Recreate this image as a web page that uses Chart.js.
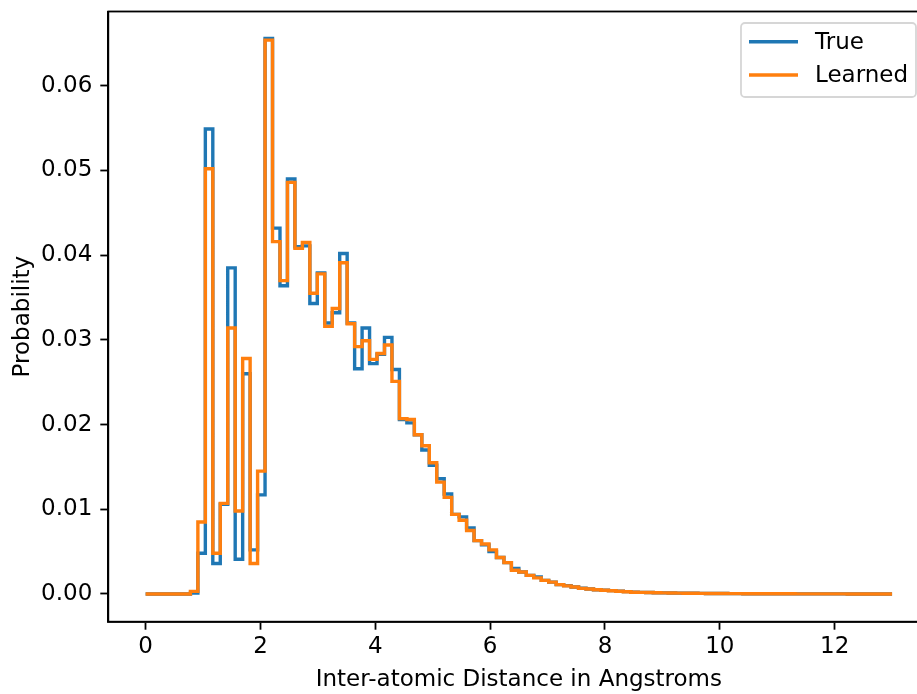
<!DOCTYPE html>
<html>
<head>
<meta charset="utf-8">
<script src="https://cdn.jsdelivr.net/npm/chart.js@4/dist/chart.umd.min.js"></script>
<style>
html, body { margin: 0; padding: 0; overflow: hidden; background: #fff; }
canvas { display: block; }
</style>
</head>
<body>
<canvas id="c" width="940" height="694"></canvas>
<script>
// ---- data ----
const binStart = 0;
const binWidth = 0.13;
const seriesNames = ["True", "Learned"];
const trueValues = [
  0, 0, 0, 0, 0, 0, 0.0001, 0.0048, 0.0549, 0.0036,
  0.0106, 0.0385, 0.0041, 0.0260, 0.0052, 0.0117, 0.0656, 0.0432, 0.0364, 0.0490,
  0.0410, 0.0411, 0.0343, 0.0379, 0.0320, 0.0332, 0.0402, 0.0320, 0.0266, 0.0314,
  0.0272, 0.0283, 0.0303, 0.0265, 0.0206, 0.0202, 0.0188, 0.0170, 0.0152, 0.0136,
  0.0118, 0.0094, 0.0091, 0.0078, 0.0063, 0.0058, 0.0050, 0.0043, 0.0037, 0.0030,
  0.0026, 0.0022, 0.0020, 0.0016, 0.0014, 0.0011, 0.00098, 0.00083, 0.00068, 0.00059,
  0.0005, 0.00043, 0.00039, 0.00033, 0.00028, 0.00021, 0.00019, 0.00017, 0.00015, 0.00013,
  0.00011, 0.0001, 0.00009, 0.00008, 0.00007, 0.00006, 0.00005, 0.00005, 0.00004, 0.00004,
  0.00003, 0.00003, 0.00003, 0.00002, 0.00002, 0.00002, 0.00002, 0.00001, 0.00001, 0.00001,
  0.00001, 0.00001, 0.00001, 0.00001, 0, 0, 0, 0, 0, 0
];
const learnedValues = [
  0, 0, 0, 0, 0, 0, 0.0003, 0.0085, 0.0502, 0.0048,
  0.0107, 0.0314, 0.0098, 0.0278, 0.0036, 0.0145, 0.0654, 0.0416, 0.0370, 0.0486,
  0.0408, 0.0415, 0.0355, 0.0378, 0.0316, 0.0337, 0.0391, 0.0319, 0.0292, 0.0299,
  0.0277, 0.0284, 0.0294, 0.0251, 0.0207, 0.0206, 0.0188, 0.0175, 0.0155, 0.0132,
  0.0114, 0.0094, 0.0087, 0.0075, 0.0063, 0.0059, 0.0052, 0.0043, 0.0037, 0.0028,
  0.0026, 0.0022, 0.0019, 0.0016, 0.0014, 0.0011, 0.00095, 0.00082, 0.00066, 0.00058,
  0.0005, 0.00043, 0.00038, 0.00032, 0.00027, 0.00021, 0.00019, 0.00017, 0.00015, 0.00013,
  0.00011, 0.0001, 0.00009, 0.00008, 0.00007, 0.00006, 0.00005, 0.00005, 0.00004, 0.00004,
  0.00003, 0.00003, 0.00003, 0.00002, 0.00002, 0.00002, 0.00002, 0.00001, 0.00001, 0.00001,
  0.00001, 0.00001, 0.00001, 0.00001, 0, 0, 0, 0, 0, 0
];
const xTickValues = [0, 2, 4, 6, 8, 10, 12];
const yTickValues = [0, 0.01, 0.02, 0.03, 0.04, 0.05, 0.06];
const xTitle = "Inter-atomic Distance in Angstroms";
const yTitle = "Probability";

// ---- build step points (bin edges) ----
function stepPoints(vals) {
  const pts = vals.map((v, i) => ({ x: +(binStart + i * binWidth).toFixed(4), y: v }));
  pts.push({ x: +(binStart + vals.length * binWidth).toFixed(4), y: vals[vals.length - 1] });
  return pts;
}

const BLUE = '#1f77b4', ORANGE = '#ff7f0e';
const FONT = 'DejaVu Sans';
const FS = 23;
const LW = 3.4;
const SPINE = 1.8;

const framePlugin = {
  id: 'frame',
  afterDraw(chart) {
    const { ctx, chartArea: a } = chart;
    ctx.save();
    ctx.strokeStyle = '#000';
    ctx.lineWidth = SPINE;
    ctx.strokeRect(a.left, a.top, a.right - a.left, a.bottom - a.top);
    // legend
    const lx = 741, ly = 23, lw = 175, lh = 74, r = 4;
    ctx.globalAlpha = 0.8;
    ctx.fillStyle = '#fff';
    ctx.beginPath();
    ctx.roundRect(lx, ly, lw, lh, r);
    ctx.fill();
    ctx.globalAlpha = 1;
    ctx.strokeStyle = '#d6d6d6';
    ctx.lineWidth = 1.8;
    ctx.stroke();
    const items = [[seriesNames[0], BLUE, 41.7], [seriesNames[1], ORANGE, 75]];
    ctx.font = FS + 'px "' + FONT + '"';
    ctx.textBaseline = 'middle';
    ctx.textAlign = 'left';
    items.forEach(([t, c, y]) => {
      ctx.strokeStyle = c;
      ctx.lineWidth = LW;
      ctx.beginPath();
      ctx.moveTo(749, y);
      ctx.lineTo(798, y);
      ctx.stroke();
      ctx.fillStyle = '#000';
      ctx.fillText(t, 815, y + 1);
    });
    ctx.restore();
  }
};

function zeroPad(s) { s.paddingLeft = 0; s.paddingRight = 0; s.paddingTop = 0; s.paddingBottom = 0; }

new Chart(document.getElementById('c'), {
  type: 'line',
  data: {
    datasets: [
      { label: seriesNames[0], data: stepPoints(trueValues), borderColor: BLUE, borderWidth: LW,
        stepped: true, pointRadius: 0, fill: false, order: 2, borderJoinStyle: 'miter' },
      { label: seriesNames[1], data: stepPoints(learnedValues), borderColor: ORANGE, borderWidth: LW,
        stepped: true, pointRadius: 0, fill: false, order: 1, borderJoinStyle: 'miter' }
    ]
  },
  options: {
    responsive: false,
    animation: false,
    devicePixelRatio: 1,
    layout: { padding: { top: 11.5, right: 10.6, left: 0, bottom: 0 } },
    plugins: { legend: { display: false }, tooltip: { enabled: false } },
    scales: {
      x: {
        type: 'linear',
        min: -0.65, max: 13.65,
        afterBuildTicks(s) { s.ticks = xTickValues.map(v => ({ value: v })); },
        afterFit(s) { s.height = 72.3; zeroPad(s); },
        ticks: { color: '#000', font: { family: FONT, size: FS }, padding: 4, maxRotation: 0,
                 callback: v => String(v) },
        grid: { display: true, drawOnChartArea: false, drawTicks: true, tickLength: 8,
                tickColor: '#000', tickWidth: SPINE },
        border: { display: true, color: '#000', width: SPINE },
        title: { display: true, text: xTitle, color: '#000', font: { family: FONT, size: FS },
                 padding: { top: 0, bottom: 0 } }
      },
      y: {
        type: 'linear',
        min: -0.003275, max: 0.068775,
        afterBuildTicks(s) { s.ticks = yTickValues.map(v => ({ value: v })); },
        afterFit(s) { s.width = 108.3; zeroPad(s); },
        ticks: { color: '#000', font: { family: FONT, size: FS }, padding: 8,
                 callback: v => v.toFixed(2) },
        grid: { display: true, drawOnChartArea: false, drawTicks: true, tickLength: 8,
                tickColor: '#000', tickWidth: SPINE },
        border: { display: true, color: '#000', width: SPINE },
        title: { display: true, text: yTitle, color: '#000', font: { family: FONT, size: FS },
                 padding: { top: 9, bottom: 0 } }
      }
    }
  },
  plugins: [framePlugin]
});
</script>
</body>
</html>
